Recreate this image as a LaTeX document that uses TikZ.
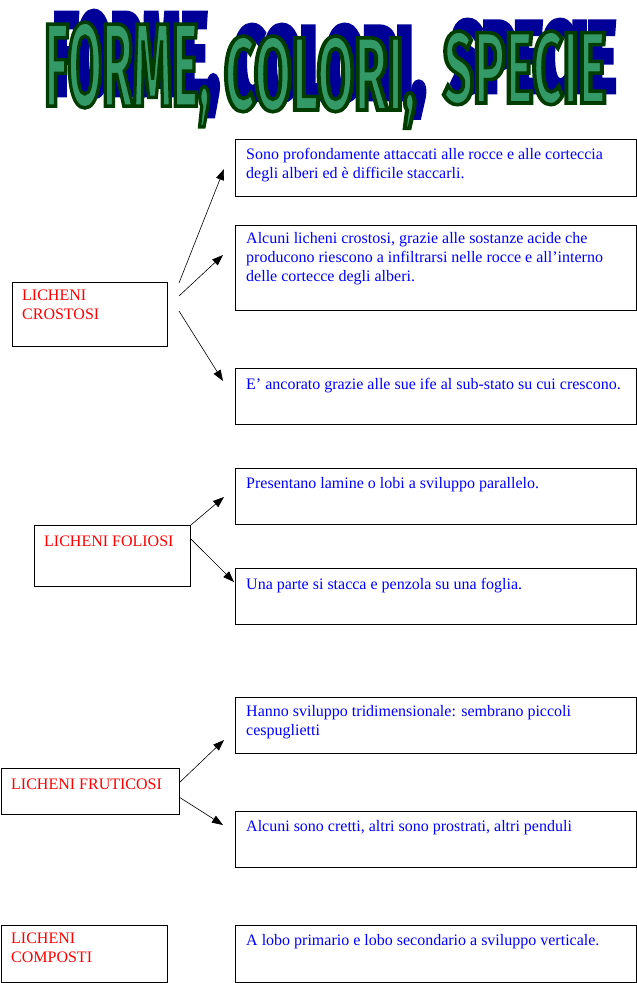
\documentclass[tikz,border=0pt]{standalone}
\usepackage{fontspec}
\usepackage{graphicx}
\setmainfont{Liberation Serif}
\newfontfamily\titlefont[FakeStretch=0.45]{Fira Sans}
\usetikzlibrary{arrows.meta,calc}
\definecolor{txtblue}{RGB}{0,0,255}
\definecolor{txtred}{RGB}{255,0,0}
\definecolor{waGreen}{RGB}{51,153,102}
\definecolor{waDark}{RGB}{0,60,0}
\definecolor{waBlue}{RGB}{0,0,153}
% #1 width, #2 height, #3 font size, #4 stroke (pdf literal), #5 text
\newcommand\waword[5]{\special{pdf:literal direct #4 2 Tr}\resizebox{#1}{#2}{\fontsize{#3}{#3}\titlefont\bfseries #5}\special{pdf:literal direct 0 Tr}}
\newcommand\waTitle[7]{%
  \node[waglyph,text=waBlue] (#1s) at (#2+9,#3-11) {\waword{#4}{#5}{#6}{0 0 0.6 RG 5 w}{#7}};
  \node[waglyph,text=waGreen] (#1) at (#2,#3) {\waword{#4}{#5}{#6}{0 0.235 0 RG 3.6 w}{#7}};
}
\begin{document}
\begin{tikzpicture}[x=1pt,y=-1pt,
  waglyph/.style={inner sep=0,anchor=base west},
  box/.style={draw=black,line width=0.9pt,inner sep=0,anchor=north west},
  desc/.style={text=txtblue,font=\fontsize{16}{19}\selectfont,align=left,inner sep=0,anchor=north west,
    execute at begin node={\rule{0pt}{12pt}}},
  cat/.style={text=txtred,font=\fontsize{16}{19}\selectfont,align=left,inner sep=0,anchor=north west,
    execute at begin node={\rule{0pt}{12pt}}},
  arr/.style={line width=0.6pt,-{Triangle[length=11pt,width=8pt]}}]
\useasboundingbox (0,0) rectangle (637,983);
% title
\waTitle{t1}{44}{106}{166pt}{84pt}{122}{FORME,}
\waTitle{t2}{224}{110}{192pt}{74pt}{107}{COLORI,}
\waTitle{t3}{443}{103}{163pt}{72pt}{104}{SPECIE}
% crostosi
\node[box,minimum width=155pt,minimum height=64pt] (cro) at (12,282) {};
\node[cat] (crot) at ($(cro.north west)+(10,8)$) {LICHENI\\CROSTOSI};
\node[box,minimum width=401pt,minimum height=57pt] (c1) at (235,139) {};
\node[desc] (c1t) at ($(c1.north west)+(11,9)$) {Sono profondamente attaccati alle rocce e alle corteccia\\degli alberi ed è difficile staccarli.};
\node[box,minimum width=401pt,minimum height=85pt] (c2) at (235,225) {};
\node[desc] (c2t) at ($(c2.north west)+(11,7)$) {Alcuni licheni crostosi, grazie alle sostanze acide che\\producono riescono a infiltrarsi nelle rocce e all’interno\\delle cortecce degli alberi.};
\node[box,minimum width=401pt,minimum height=56pt] (c3) at (235,368) {};
\node[desc] (c3t) at ($(c3.north west)+(11,9)$) {E’ ancorato grazie alle sue ife al sub-stato su cui crescono.};
\coordinate (a1s) at (179,283); \coordinate (a1e) at (224,169);
\coordinate (a2s) at (179,296); \coordinate (a2e) at (223,255);
\coordinate (a3s) at (179,311); \coordinate (a3e) at (223,381);
\draw[arr] (a1s) -- (a1e);
\draw[arr] (a2s) -- (a2e);
\draw[arr] (a3s) -- (a3e);
% foliosi
\node[box,minimum width=156pt,minimum height=61pt] (fol) at (34,525) {};
\node[cat] (folt) at ($(fol.north west)+(10,9)$) {LICHENI FOLIOSI};
\node[box,minimum width=401pt,minimum height=56pt] (f1) at (235,468) {};
\node[desc] (f1t) at ($(f1.north west)+(11,8)$) {Presentano lamine o lobi a sviluppo parallelo.};
\node[box,minimum width=401pt,minimum height=56pt] (f2) at (235,568) {};
\node[desc] (f2t) at ($(f2.north west)+(11,9)$) {Una parte si stacca e penzola su una foglia.};
\coordinate (b2e) at (234,582);
\draw[arr] (fol.north east) -- (224,497) coordinate (b1e);
\draw[arr] ($(fol.north east)+(0,14)$) coordinate (b2s) -- (b2e);
% fruticosi
\node[box,minimum width=178pt,minimum height=46pt] (fru) at (1,768) {};
\node[cat] (frut) at ($(fru.north west)+(10,9)$) {LICHENI FRUTICOSI};
\node[box,minimum width=401pt,minimum height=56pt] (r1) at (235,697) {};
\node[desc] (r1t) at ($(r1.north west)+(11,8)$) {Hanno sviluppo tridimensionale: sembrano piccoli\\cespuglietti};
\node[box,minimum width=401pt,minimum height=56pt] (r2) at (235,811) {};
\node[desc] (r2t) at ($(r2.north west)+(11,8)$) {Alcuni sono cretti, altri sono prostrati, altri penduli};
\coordinate (d1s) at (179,783); \coordinate (d1e) at (224,740);
\coordinate (d2s) at (179,797); \coordinate (d2e) at (223,825);
\draw[arr] (d1s) -- (d1e);
\draw[arr] (d2s) -- (d2e);
% composti
\node[box,minimum width=166pt,minimum height=57pt] (com) at (1,925) {};
\node[cat] (comt) at ($(com.north west)+(10,8)$) {LICHENI\\COMPOSTI};
\node[box,minimum width=401pt,minimum height=57pt] (p1) at (235,925) {};
\node[desc] (p1t) at ($(p1.north west)+(11,8)$) {A lobo primario e lobo secondario a sviluppo verticale.};
\end{tikzpicture}
\end{document}
